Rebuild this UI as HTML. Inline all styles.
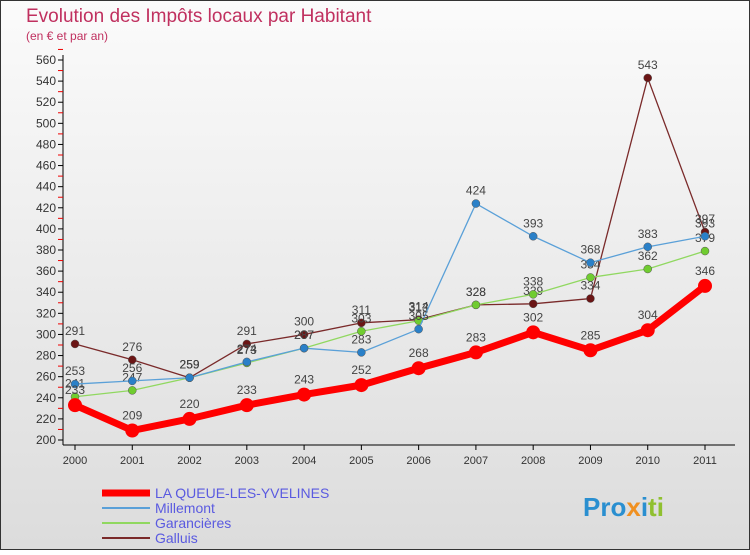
<!DOCTYPE html>
<html><head><meta charset="utf-8"><style>
body{margin:0;width:750px;height:550px;overflow:hidden;font-family:"Liberation Sans",sans-serif}
</style></head><body>
<svg width="750" height="550" xmlns="http://www.w3.org/2000/svg">
<defs><linearGradient id="bg" x1="0" y1="0" x2="0" y2="1"><stop offset="0" stop-color="#fbfbfb"/><stop offset="1" stop-color="#dcdcdc"/></linearGradient></defs>
<rect x="0.5" y="0.5" width="749" height="549" fill="url(#bg)" stroke="#333"/>
<text x="26" y="22" font-size="19" fill="#c0305f">Evolution des Impôts locaux par Habitant</text>
<text x="26" y="40" font-size="12" fill="#c0305f">(en € et par an)</text>
<g id="axes"></g><g id="series"></g><g id="legend"></g>
<text x="583" y="516" font-size="26" font-weight="bold" fill="#2a8fd0">Pro<tspan fill="#f09020">x</tspan><tspan fill="#2a8fd0">i</tspan><tspan fill="#90c030">ti</tspan></text>
</svg>
<script>
const years=["2000","2001","2002","2003","2004","2005","2006","2007","2008","2009","2010","2011"];
const yTicks=[200,220,240,260,280,300,320,340,360,380,400,420,440,460,480,500,520,540,560];
const mainVals=[233,209,220,233,243,252,268,283,302,285,304,346];
const millemontVals=[253,256,259,274,287,283,305,424,393,368,383,393];
const garancieresVals=[241,247,259,273,287,303,313,328,338,354,362,379];
const galluisVals=[291,276,259,291,300,311,314,328,329,334,543,397];
const NS="http://www.w3.org/2000/svg";
const X=i=>75+i*(630/11);
const Y=v=>440-(v-200)*380/360;
function mk(t,a,p){const e=document.createElementNS(NS,t);for(const k in a)e.setAttribute(k,a[k]);p.appendChild(e);return e;}
const ax=document.getElementById('axes');
const yl=mk('line',{x1:63,y1:55,x2:63,y2:445,stroke:'#000'},ax);


const xl=mk('line',{x1:63,y1:445,x2:735,y2:445,stroke:'#000'},ax);


yTicks.forEach(v=>{
 mk('line',{x1:58,y1:Y(v),x2:63,y2:Y(v),stroke:'#000'},ax);
 mk('line',{x1:58,y1:Y(v+10),x2:63,y2:Y(v+10),stroke:'#e00'},ax);
 const t=mk('text',{x:56,y:Y(v)+4,'font-size':12,'text-anchor':'end',fill:'#333'},ax);t.textContent=v;
 
 
});
years.forEach((y,i)=>{
 mk('line',{x1:X(i),y1:445,x2:X(i),y2:450,stroke:'#000'},ax);
 const t=mk('text',{x:X(i),y:464,'font-size':11,'text-anchor':'middle',fill:'#333'},ax);t.textContent=y;
 
 
});
const sg=document.getElementById('series');
const series=[
 {n:'galluis',v:galluisVals,c:'#7a2a2a',f:'#6b1515',w:1.3,r:4},
 {n:'garancieres',v:garancieresVals,c:'#90d860',f:'#70cc30',w:1.3,r:4},
 {n:'millemont',v:millemontVals,c:'#5aa0d8',f:'#2a80c8',w:1.3,r:4},
 {n:'la-queue-les-yvelines',v:mainVals,c:'#ff0000',f:'#ff0000',w:7,r:7}
];
series.forEach(s=>{
 const g=mk('g',{},sg);
 
 
 const p=mk('polyline',{points:s.v.map((v,i)=>X(i)+','+Y(v)).join(' '),fill:'none',stroke:s.c,'stroke-width':s.w,'stroke-linejoin':'round'},g);
 
 
 s.v.forEach((v,i)=>{
  const c=mk('circle',{cx:X(i),cy:Y(v),r:s.r,fill:s.f,stroke:s.r>5?'none':'#555','stroke-width':0.5},g);
  
  
  const t=mk('text',{x:X(i),y:Y(v)-(s.r>5?11:9),'font-size':12,'text-anchor':'middle',fill:'#444'},g);t.textContent=v;
  
  
 });
});
const lg=document.getElementById('legend');
const leg=[['LA QUEUE-LES-YVELINES','#ff0000',7],['Millemont','#5aa0d8',2],['Garancières','#90d860',2],['Galluis','#7a2a2a',2]];
leg.forEach((l,i)=>{
 const y=493+i*15;
 const ln=mk('line',{x1:102,y1:y,x2:150,y2:y,stroke:l[1],'stroke-width':l[2]},lg);
 
 
 const t=mk('text',{x:155,y:y+5,'font-size':14,fill:'#5a5ae0'},lg);t.textContent=l[0];
 
 
});
</script>
</body></html>
